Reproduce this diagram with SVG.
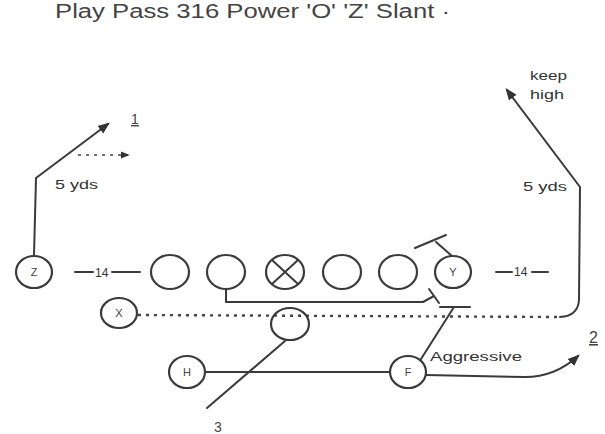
<svg xmlns="http://www.w3.org/2000/svg" width="605" height="434" viewBox="0 0 605 434">
<defs>
<style>
.ln{fill:none;stroke:#3a3a3a;stroke-width:2;stroke-linecap:round;stroke-linejoin:round}
.dot{fill:none;stroke:#444;stroke-width:2.4;stroke-dasharray:3 5}
.pl{fill:#fff;stroke:#3a3a3a;stroke-width:2.2}
.lt{font-family:"Liberation Sans",Arial,sans-serif;font-size:11px;fill:#444;text-anchor:middle}
.sm{font-family:"Liberation Sans",Arial,sans-serif;font-size:12px;fill:#333}
.t{font-family:"Liberation Sans",Arial,sans-serif;fill:#444}
</style>
<marker id="ah" viewBox="0 0 10 10" refX="8" refY="5" markerWidth="6" markerHeight="6" orient="auto-start-reverse"><path d="M0,1 L10,5 L0,9 z" fill="#333"/></marker>
</defs>
<rect width="605" height="434" fill="#fff"/>
<text class="t" x="55" y="18" font-size="20" textLength="395" lengthAdjust="spacingAndGlyphs">Play Pass 316 Power 'O' 'Z' Slant ·</text>

<g id="connectors">
  <!-- Z route -->
  <polyline class="ln" points="34,255 36,178 108,124" marker-end="url(#ah)"/>
  <line class="dot" x1="78" y1="155" x2="128" y2="155" marker-end="url(#ah)" style="stroke-width:1.5"/>
  <!-- X route -->
  <path class="dot" d="M138,315 L560,317"/>
  <path class="ln" d="M560,317 Q578,316 579,300 L580,187 L507,90" marker-end="url(#ah)"/>
  <!-- guard pull -->
  <polyline class="ln" points="226,290 226,302 423,302 434,296"/>
  <line class="ln" x1="429" y1="289" x2="439" y2="303"/>
  <!-- Y block -->
  <line class="ln" x1="452" y1="256" x2="436" y2="242"/>
  <line class="ln" x1="415" y1="248" x2="446" y2="235"/>
  <!-- F block -->
  <line class="ln" x1="421" y1="359" x2="454" y2="307"/>
  <line class="ln" x1="440" y1="307" x2="470" y2="307"/>
  <!-- F route -->
  <path class="ln" d="M426,375 L525,377 Q555,377 578,356" marker-end="url(#ah)"/>
  <!-- H to F -->
  <line class="ln" x1="205" y1="372" x2="389" y2="372"/>
  <!-- back route 3 -->
  <line class="ln" x1="285" y1="341" x2="207" y2="408"/>
  <!-- splits -->
  <line class="ln" x1="75" y1="272" x2="93" y2="272"/>
  <line class="ln" x1="112" y1="272" x2="140" y2="272"/>
  <line class="ln" x1="496" y1="272" x2="512" y2="272"/>
  <line class="ln" x1="532" y1="272" x2="548" y2="272"/>
</g>

<g id="z"><ellipse class="pl" cx="34" cy="272" rx="18" ry="16"/><text class="lt" x="34" y="276">Z</text></g>
<g id="ol1"><ellipse class="pl" cx="170" cy="272" rx="19" ry="17"/></g>
<g id="ol2"><ellipse class="pl" cx="226" cy="272" rx="19" ry="17"/></g>
<g id="c"><ellipse class="pl" cx="285" cy="272" rx="19" ry="17"/><path class="ln" d="M272,260 L298,284 M298,260 L272,284"/></g>
<g id="ol4"><ellipse class="pl" cx="342" cy="272" rx="19" ry="17"/></g>
<g id="ol5"><ellipse class="pl" cx="398" cy="272" rx="19" ry="17"/></g>
<g id="y"><ellipse class="pl" cx="453" cy="272" rx="18" ry="16"/><text class="lt" x="453" y="276">Y</text></g>
<g id="x"><ellipse class="pl" cx="119" cy="313" rx="18" ry="15"/><text class="lt" x="119" y="317">X</text></g>
<g id="qb"><ellipse cx="290" cy="324" rx="19" ry="16" fill="none" stroke="#3a3a3a" stroke-width="2.2"/></g>
<g id="h"><ellipse class="pl" cx="187" cy="372" rx="18" ry="16"/><text class="lt" x="187" y="376">H</text></g>
<g id="f"><ellipse class="pl" cx="408" cy="372" rx="18" ry="16"/><text class="lt" x="408" y="376">F</text></g>

<g id="labels">
  <text class="sm" x="95" y="277" font-size="13">14</text>
  <text class="sm" x="514" y="276" font-size="10">14</text>
  <text class="t" x="131" y="124" font-size="14" text-decoration="underline">1</text>
  <text class="sm" x="55" y="189" textLength="43" lengthAdjust="spacingAndGlyphs">5 yds</text>
  <text class="sm" x="523" y="191" textLength="44" lengthAdjust="spacingAndGlyphs">5 yds</text>
  <text class="sm" x="530" y="80" font-size="11" textLength="37" lengthAdjust="spacingAndGlyphs">keep</text>
  <text class="sm" x="530" y="99" font-size="11" textLength="34" lengthAdjust="spacingAndGlyphs">high</text>
  <text class="sm" x="430" y="361" textLength="92" lengthAdjust="spacingAndGlyphs">Aggressive</text>
  <text class="t" x="589" y="343" font-size="16" text-decoration="underline">2</text>
  <text class="t" x="214" y="432" font-size="14">3</text>
</g>
</svg>
